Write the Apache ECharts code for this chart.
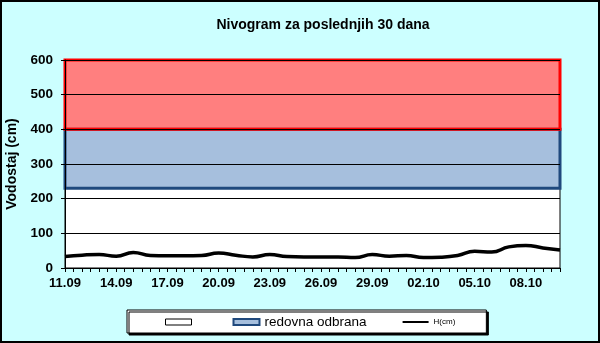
<!DOCTYPE html>
<html>
<head>
<meta charset="utf-8">
<script src="https://cdn.jsdelivr.net/npm/echarts@6/dist/echarts.min.js"></script>
<style>
html,body{margin:0;padding:0;background:#CCFFFF;}
#c{width:600px;height:343px;}
</style>
</head>
<body>
<div id="c"></div>
<script>
const dates = ['11.09','12.09','13.09','14.09','15.09','16.09','17.09','18.09','19.09','20.09',
  '21.09','22.09','23.09','24.09','25.09','26.09','27.09','28.09','29.09','30.09',
  '01.10','02.10','03.10','04.10','05.10','06.10','07.10','08.10','09.10','10.10'];
const levels = [33,37,39,34,45,36,35,35,36,43,
  37,32,39,33,32,32,32,30,39,34,
  36,30,31,36,48,46,61,65,58,52];
const yTicks = [0,100,200,300,400,500,600];
const bandWhite = [0,230];
const bandBlue = [230,400];
const bandRed = [400,600];

const chart = echarts.init(document.getElementById('c'), null, {renderer:'canvas'});
const font = 'Arial, "Liberation Sans", sans-serif';
const lastX = dates.length - 1;
const linePts = levels.map((v,i)=>[i,v]);

chart.setOption({
  backgroundColor:'#CCFFFF',
  animation:false,
  title:{
    text:'Nivogram za poslednjih 30 dana',
    left:318, top:13, textAlign:'center',
    textStyle:{fontFamily:font, fontSize:14, fontWeight:'bold', color:'#000'}
  },
  grid:{left:65, right:40, top:60, bottom:75, outerBoundsMode:'none', containLabel:false,
    show:true, backgroundColor:'#fff', borderColor:'#000', borderWidth:1},
  xAxis:{
    type:'value', min:0, max:lastX, interval:0.5,
    axisLine:{show:true, lineStyle:{color:'#000', width:1}},
    axisTick:{show:true, length:4, lineStyle:{color:'#000'}},
    splitLine:{show:false},
    axisLabel:{
      margin:9, color:'#000', fontFamily:font, fontSize:13, fontWeight:'bold',
      formatter:function(v){ return (Number.isInteger(v) && v%3===0) ? dates[v] : ''; }
    }
  },
  yAxis:{
    type:'value', min:yTicks[0], max:yTicks[yTicks.length-1], interval:100, z:5,
    name:'Vodostaj (cm)', nameLocation:'middle', nameGap:42,
    nameTextStyle:{fontFamily:font, fontSize:14, fontWeight:'bold', color:'#000'},
    axisLine:{show:true, lineStyle:{color:'#000', width:1}},
    axisTick:{show:true, length:4, lineStyle:{color:'#000'}},
    splitLine:{show:true, lineStyle:{color:'#000', width:1}},
    axisLabel:{margin:12, color:'#000', fontFamily:font, fontSize:13.5, fontWeight:'bold'}
  },
  legend:{
    left:127, top:310,
    padding:[5,31,4,38],
    itemGap:36, itemWidth:26, itemHeight:6,
    backgroundColor:'#fff', borderColor:'#000', borderWidth:1,
    shadowColor:'#000', shadowBlur:0, shadowOffsetX:2, shadowOffsetY:2,
    textStyle:{fontFamily:font, fontSize:13.5, color:'#000'},
    data:[
      {name:'\u200b', icon:'rect', itemStyle:{color:'#fff', borderColor:'#000', borderWidth:1}},
      {name:'redovna odbrana', icon:'rect', itemStyle:{color:'#A6BFDD', borderColor:'#1F497D', borderWidth:2}},
      {name:'H(cm)', textStyle:{fontSize:8},
       icon:'path://M0,0L0,0M0,2L26,2L26,4L0,4ZM26,6L26,6',
       itemStyle:{color:'#000', borderWidth:0}}
    ]
  },
  series:[
    {
      name:'\u200b', type:'line', data:[], symbol:'none',
      itemStyle:{color:'#fff'},
      markArea:{silent:true, itemStyle:{color:'rgba(255,255,255,0)'},
        data:[[{xAxis:0, yAxis:bandWhite[0]},{xAxis:lastX, yAxis:bandWhite[1]}]]}
    },
    {
      name:'redovna odbrana', type:'line', data:[], symbol:'none', z:2,
      itemStyle:{color:'#A6BFDD'},
      markArea:{silent:true,
        itemStyle:{color:'rgba(77,127,187,0.5)', borderColor:'#1F497D', borderWidth:3},
        data:[[{xAxis:0, yAxis:bandBlue[0]},{xAxis:lastX, yAxis:bandBlue[1]}]]}
    },
    {
      name:'crvena', type:'line', data:[], symbol:'none', z:3,
      itemStyle:{color:'#FF8080'},
      markArea:{silent:true,
        itemStyle:{color:'rgba(255,0,0,0.5)', borderColor:'#FF0000', borderWidth:3},
        data:[[{xAxis:0, yAxis:bandRed[0]},{xAxis:lastX, yAxis:bandRed[1]}]]}
    },
    {
      name:'H(cm)', type:'line', data:linePts, symbol:'none', smooth:0.5, z:4,
      itemStyle:{color:'#000'},
      lineStyle:{color:'#000', width:3.5}
    }
  ],
  graphic:[{
    type:'rect', z:100, silent:true,
    shape:{x:1, y:1, width:598, height:341},
    style:{fill:'none', stroke:'#000', lineWidth:2}
  }]
});
</script>
</body>
</html>
